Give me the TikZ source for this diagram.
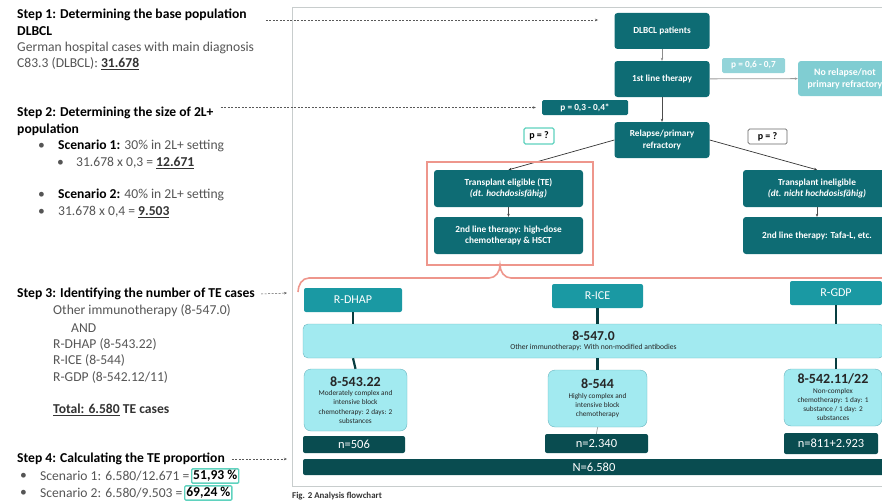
\documentclass[tikz,border=0pt]{standalone}
\usepackage{fontspec}
\setmainfont{Carlito}
\usetikzlibrary{positioning,arrows.meta}

\definecolor{tealdark}{RGB}{14,108,116}
\definecolor{tealmid}{RGB}{26,153,163}
\definecolor{tealdeep}{RGB}{9,76,80}
\definecolor{tealpale}{RGB}{128,205,210}
\definecolor{cyanbox}{RGB}{162,234,240}
\definecolor{cyanedge}{RGB}{105,180,190}
\definecolor{salmon}{RGB}{238,150,140}
\definecolor{turq}{RGB}{95,210,190}
\definecolor{txtgray}{RGB}{85,85,85}
\definecolor{framegray}{RGB}{200,205,205}

\newcommand{\opsfont}{\fontsize{14}{15}\selectfont\bfseries}

\tikzset{
  flow/.style={fill=tealdark, text=white, rounded corners=3pt, inner sep=0pt,
    align=center, font=\fontsize{9.3}{11.5}\selectfont\bfseries},
  paleflow/.style={flow, fill=tealpale},
  pbox/.style={draw=#1, line width=1.2pt, fill=white, rounded corners=1.5pt,
    inner sep=0pt, font=\fontsize{10}{11}\selectfont\bfseries},
  regimen/.style={fill=tealmid, text=white, rounded corners=2pt, inner sep=0pt,
    font=\fontsize{12}{13}\selectfont},
  ops/.style={fill=cyanbox, draw=cyanedge, line width=0.4pt, rounded corners=7pt,
    inner sep=0pt, align=center, text=black!85, font=\fontsize{7.3}{9.3}\selectfont},
  count/.style={fill=tealdeep, text=white, rounded corners=2pt, inner sep=0pt,
    font=\fontsize{12.5}{14}\selectfont},
  head/.style={anchor=west, inner sep=0pt, font=\fontsize{13.6}{15}\selectfont\bfseries},
  body/.style={anchor=west, inner sep=0pt, text=txtgray, font=\fontsize{13.6}{15}\selectfont},
  result/.style={draw=turq, line width=1.3pt, rounded corners=1pt, inner sep=1.5pt,
    font=\fontsize{13.6}{15}\selectfont\bfseries},
  thin/.style={-{Stealth[length=3pt,width=2.5pt]}, line width=0.5pt, black!70},
  vline/.style={line width=2.2pt, tealdeep!80!black},
  dasharr/.style={dashed, dash pattern=on 2pt off 1.5pt, line width=0.5pt, black!65,
    -{Stealth[length=3pt,width=2.5pt]}},
}

\begin{document}
\begin{tikzpicture}[x=1pt,y=-1pt]
\useasboundingbox (0,0) rectangle (882,503);

% left column
\node[head] (s1a) at (17,15) {Step 1: Determining the base population};
\node[head] (s1b) at (17,31) {DLBCL};
\node[body] (s1c) at (17,48) {German hospital cases with main diagnosis};
\node[body] (s1d) at (17,64) {C83.3 (DLBCL): \textcolor{black!80}{\underline{\textbf{31.678}}}};

\node[head] (s2a) at (17,113) {Step 2: Determining the size of 2L+};
\node[head] (s2b) at (17,130) {population};
\node[body] at (38,146) {\textbullet};
\node[body] (sc1) at (58,146) {\textcolor{black}{\textbf{Scenario 1:}} 30\% in 2L+ setting};
\node[body] at (57,163) {\textbullet};
\node[body] (sc1c) at (76,163) {31.678 x 0,3 = \textcolor{black!80}{\underline{\textbf{12.671}}}};
\node[body] at (38,195) {\textbullet};
\node[body] (sc2) at (58,195) {\textcolor{black}{\textbf{Scenario 2:}} 40\% in 2L+ setting};
\node[body] at (38,212) {\textbullet};
\node[body] (sc2c) at (58,212) {31.678 x 0,4 = \textcolor{black!80}{\underline{\textbf{9.503}}}};

\node[head] (s3a) at (17,294) {Step 3: Identifying the number of TE cases};
\node[body] (s3b) at (53,311) {Other immunotherapy (8-547.0)};
\node[body] (s3c) at (71,328) {AND};
\node[body] (s3d) at (53,344) {R-DHAP (8-543.22)};
\node[body] (s3e) at (53,360) {R-ICE (8-544)};
\node[body] (s3f) at (53,377) {R-GDP (8-542.12/11)};
\node[body, text=black!80] (s3g) at (53,410) {\textbf{\underline{Total: 6.580} TE cases}};

\node[head] (s4a) at (17,459) {Step 4: Calculating the TE proportion};
\node[body] at (20,476) {\textbullet};
\node[body] (p1) at (40,476) {Scenario 1: 6.580/12.671 =};
\node[result, right=1.5pt of p1] (r1) {51,93 \%};
\node[body] at (20,493) {\textbullet};
\node[body] (p2) at (40,493) {Scenario 2: 6.580/9.503 =};
\node[result, right=1.5pt of p2] (r2) {69,24 \%};

% frame
\draw[framegray, line width=0.8pt] (292,7) rectangle (890,486);
\node[anchor=west, inner sep=0pt, font=\fontsize{8.9}{10}\selectfont\bfseries, text=black!80]
  (cap) at (292,496) {Fig. 2 Analysis flowchart};

% flowchart
\node[flow, minimum width=95pt, minimum height=36pt] (dlbcl) at (662,31) {DLBCL patients};
\node[flow, minimum width=95pt, minimum height=36pt] (first) at (662,79) {1st line therapy};
\node[flow, minimum width=95pt, minimum height=36pt] (relapse) at (662,140) {Relapse/primary\\refractory};
\node[paleflow, minimum width=63pt, minimum height=15pt, rounded corners=1.5pt, fill=tealpale!85!white] (p67) at (753.5,65.5) {p = 0,6 - 0,7};
\node[paleflow, minimum width=94pt, minimum height=35pt, font=\fontsize{9.8}{12}\selectfont\bfseries] (norel) at (845,78.5) {No relapse/not\\primary refractory};
\node[flow, minimum width=86pt, minimum height=15pt, rounded corners=1.5pt] (p03) at (585,107.5) {p = 0,3 - 0,4*};
\node[pbox=turq, minimum width=30pt, minimum height=16pt] (pq1) at (539,136) {p = ?};
\node[pbox=black!60, line width=0.7pt, minimum width=39pt, minimum height=15pt] (pq2) at (767.5,136.5) {p = ?};

\node[flow, minimum width=149pt, minimum height=37pt] (te) at (508.5,188.5) {Transplant eligible (TE)\\\textit{(dt. hochdosisfähig)}};
\node[flow, minimum width=149pt, minimum height=37pt] (te2) at (508.5,235.5) {2nd line therapy: high-dose\\chemotherapy \& HSCT};
\node[flow, minimum width=148pt, minimum height=37pt] (ti) at (817,188.5) {Transplant ineligible\\\textit{(dt. nicht hochdosisfähig)}};
\node[flow, minimum width=148pt, minimum height=37pt] (ti2) at (817,235.5) {2nd line therapy: Tafa-L, etc.};

\draw[thin, black!45] (dlbcl) -- (first);
\draw[thin] (first) -- (relapse);
\draw[thin, black!40, line width=0.8pt] (first) -- (norel);
\draw[thin, black!80, line width=0.7pt] (relapse.west) -- (te.north);
\draw[thin, black!80, line width=0.7pt] (relapse.east) -- (ti.north);
\draw[thin, line width=0.3pt] (te) -- (te2);
\draw[thin, line width=0.3pt] (ti) -- (ti2);

\draw[salmon, line width=1.6pt] (427,162) rectangle (593,265);
\draw[salmon, line width=1.6pt] (298,292) to[out=90,in=180] (309,278) -- (489,278)
  to[out=0,in=-90] (500,265) to[out=-90,in=180] (511,278) -- (890,278);

% codes
\node[regimen, minimum width=98pt, minimum height=24pt] (rdhap) at (353,300) {R-DHAP};
\node[regimen, minimum width=91pt, minimum height=24pt] (rice) at (597.5,296) {R-ICE};
\node[regimen, minimum width=92pt, minimum height=24pt] (rgdp) at (836,293) {R-GDP};

\node[ops, minimum width=581pt, minimum height=34pt, rounded corners=5pt] (c547) at (593.5,341)
  {{\fontsize{13.6}{15}\selectfont\bfseries 8-547.0}\\[-1pt]{\fontsize{7.6}{8}\selectfont Other immunotherapy: With non-modified antibodies}};
\node[ops, minimum width=103pt, minimum height=62pt] (b543) at (355.5,400)
  {{\opsfont 8-543.22}\\Moderately complex and\\intensive block\\chemotherapy: 2 days: 2\\substances};
\node[ops, minimum width=99pt, minimum height=57pt] (b544) at (597.5,398.5)
  {{\opsfont 8-544}\\Highly complex and\\intensive block\\chemotherapy};
\node[ops, minimum width=98pt, minimum height=57pt] (b542) at (833,397.5)
  {{\opsfont 8-542.11/22}\\Non-complex\\chemotherapy: 1 day: 1\\substance / 1 day: 2\\substances};

\draw[vline] (rdhap.south) -- (rdhap.south |- c547.north);
\draw[vline] (rdhap.south |- c547.south) -- (b543.north);
\draw[vline] (rice.south) -- (rice.south |- c547.north);
\draw[vline] (rice.south |- c547.south) -- (rice.south |- b544.north);
\draw[vline] (rgdp.south) -- (rgdp.south |- c547.north);
\draw[vline] (rgdp.south |- c547.south) -- (rgdp.south |- b542.north);

\node[count, minimum width=102pt, minimum height=17pt] (n506) at (354,444.5) {n=506};
\node[count, minimum width=103pt, minimum height=19pt] (n2340) at (596.5,443.5) {n=2.340};
\node[count, minimum width=94pt, minimum height=21pt] (n811) at (831,443.5) {n=811+2.923};
\node[count, minimum width=582pt, minimum height=16pt] (ntot) at (594,467) {N=6.580};
\draw[line width=0.4pt, black!60] (b544.south) -- (n2340.north);

% step pointers
\coordinate (e1) at (598,20);
\coordinate (e3) at (287,293);
\coordinate (e4) at (287,459);
\draw[dasharr] (s1a.east |- e1) ++(19,0) -- (e1);
\draw[dasharr] ([xshift=7pt]s2a.east |- p03.west) -- ([xshift=-6pt]p03.west);
\draw[dasharr] ([xshift=6pt]s3a.east) -- (e3);
\draw[dasharr] ([xshift=7pt]s4a.east) -- (e4);
\end{tikzpicture}
\end{document}
